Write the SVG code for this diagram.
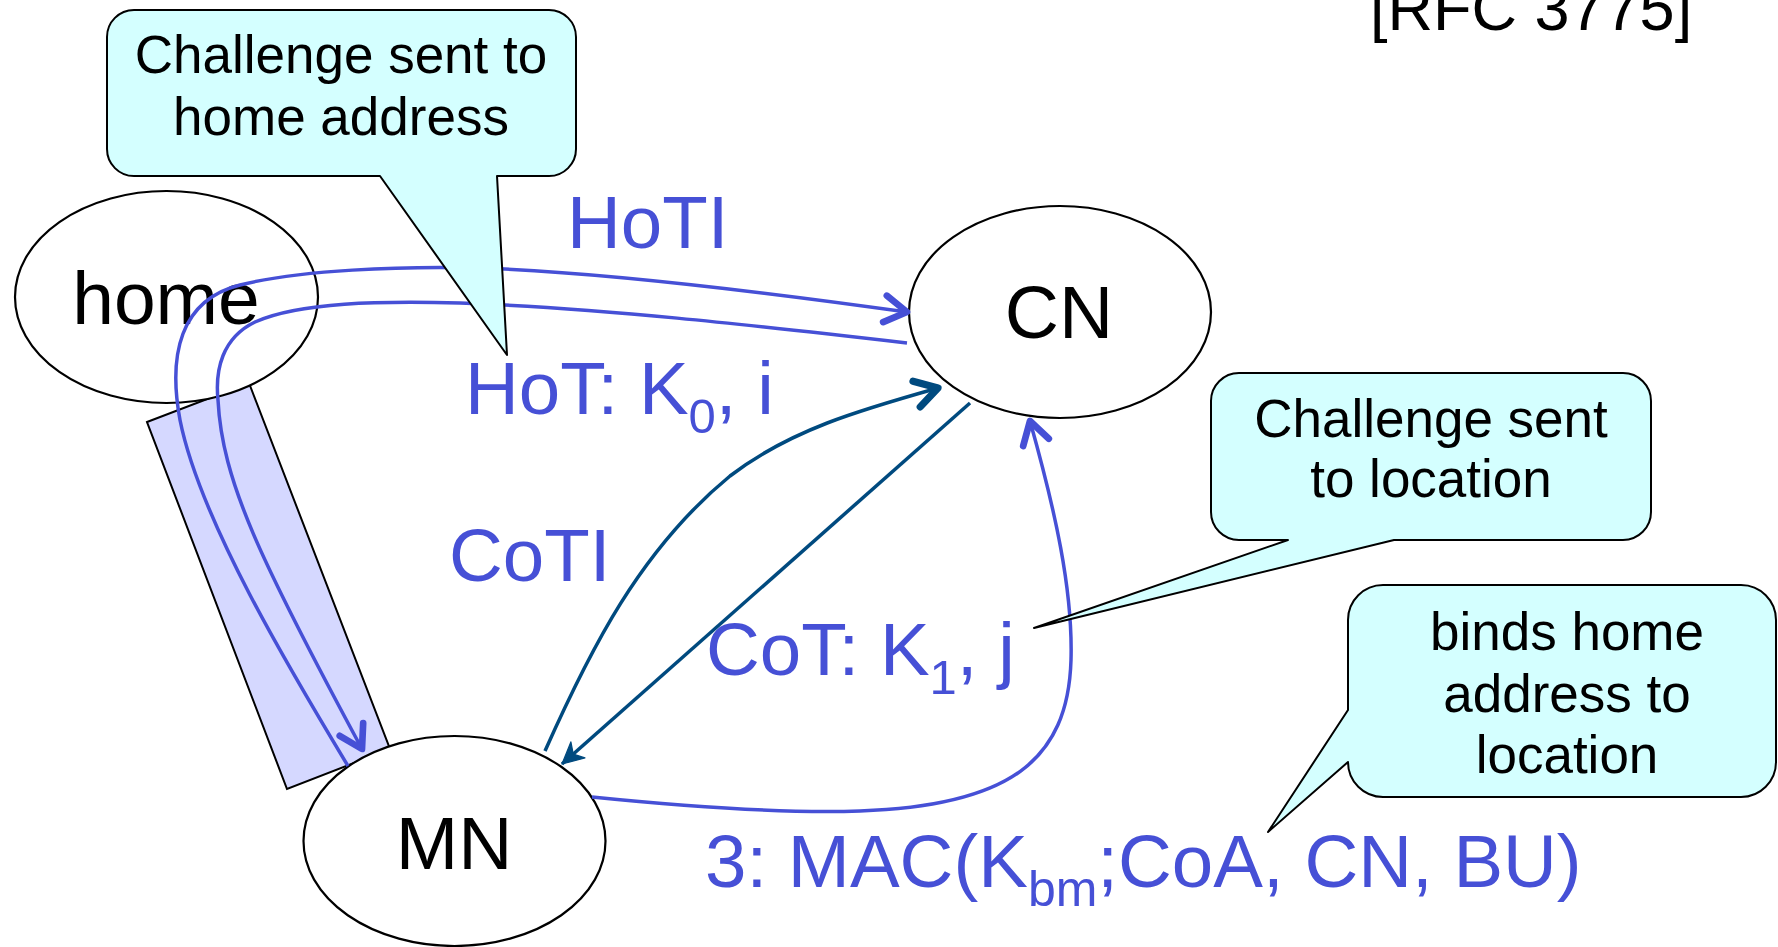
<svg xmlns="http://www.w3.org/2000/svg" width="1778" height="947" viewBox="0 0 1778 947">
  <style>
    .node { fill: #ffffff; stroke: #000000; stroke-width: 2.2; }
    .node-label { font-family: "Liberation Sans", Arial, sans-serif; font-size: 75px; fill: #000000; text-anchor: middle; }
    .callout { fill: #D4FFFF; stroke: #000000; stroke-width: 2; stroke-linejoin: round; }
    .callout-text { font-family: "Liberation Sans", Arial, sans-serif; font-size: 53px; fill: #000000; text-anchor: middle; }
    .msg { fill: none; stroke: #4650D6; stroke-width: 3.5; }
    .msg-dark { fill: none; stroke: #004A7F; stroke-width: 3.5; }
    .label { font-family: "Liberation Sans", Arial, sans-serif; font-size: 74.5px; fill: #4650D6; }
    .ref { font-family: "Liberation Sans", Arial, sans-serif; font-size: 63px; fill: #000000; }
  </style>
  <defs>
    <marker id="open-blue" markerUnits="userSpaceOnUse" markerWidth="40" markerHeight="40" viewBox="-26 -18 32 36" refX="0" refY="0" orient="auto">
      <path d="M -20 -12 L 0 0 L -20 12" fill="none" stroke="#4650D6" stroke-width="6" stroke-linecap="round" stroke-linejoin="round"/>
    </marker>
    <marker id="open-dark" markerUnits="userSpaceOnUse" markerWidth="40" markerHeight="40" viewBox="-26 -18 32 36" refX="0" refY="0" orient="auto">
      <path d="M -20 -12 L 0 0 L -20 12" fill="none" stroke="#004A7F" stroke-width="6.5" stroke-linecap="round" stroke-linejoin="round"/>
    </marker>
    <marker id="stealth-dark" markerUnits="userSpaceOnUse" markerWidth="30" markerHeight="30" viewBox="-20 -12 24 24" refX="0" refY="0" orient="auto">
      <path d="M 0 0 L -17 -8.5 L -12 0 L -17 8.5 Z" fill="#004A7F" stroke="#004A7F" stroke-width="1" stroke-linejoin="round"/>
    </marker>
  </defs>

  <!-- reference tag -->
  <text class="ref" x="1370" y="30">[RFC 3775]</text>

  <!-- tunnel between home and MN -->
  <g id="tunnel">
    <polygon points="147,422 249,383 390,749 287,789" fill="#D5D8FF" stroke="#000000" stroke-width="2"/>
  </g>

  <!-- nodes -->
  <g id="node-home">
    <ellipse class="node" cx="166.5" cy="297" rx="151.5" ry="106"/>
    <text class="node-label" x="166" y="324">home</text>
  </g>
  <g id="node-cn">
    <ellipse class="node" cx="1060" cy="312" rx="151" ry="106"/>
    <text class="node-label" x="1059" y="338">CN</text>
  </g>
  <g id="node-mn">
    <ellipse class="node" cx="454.5" cy="841" rx="151" ry="105"/>
    <text class="node-label" x="454" y="869">MN</text>
  </g>

  <!-- message connectors -->
  <g id="connectors">
    <!-- HoTI: MN via home to CN -->
    <path id="hoti" class="msg" d="M 348 766 C 290 670, 200 520, 180 420 C 168 355, 180 300, 240 285 C 300 270, 400 266, 480 268 C 600 272, 750 290, 907 312" marker-end="url(#open-blue)"/>
    <!-- HoT: CN via home to MN -->
    <path id="hot" class="msg" d="M 907 343 C 750 325, 600 308, 460 303 C 380 301, 300 302, 255 322 C 222 338, 215 370, 218 400 C 222 480, 260 560, 362 749" marker-end="url(#open-blue)"/>
    <!-- CoTI: MN to CN -->
    <path id="coti" class="msg-dark" d="M 545 751 C 590 650, 640 550, 730 476 C 790 430, 860 410, 938 388" marker-end="url(#open-dark)"/>
    <!-- CoT: CN to MN -->
    <path id="cot" class="msg-dark" d="M 970 403 L 562 764" marker-end="url(#stealth-dark)"/>
    <!-- binding update: MN to CN -->
    <path id="bu" class="msg" d="M 592 797 C 720 810, 800 813, 860 811 C 1010 806, 1068 760, 1071 660 C 1073 590, 1055 510, 1030 421" marker-end="url(#open-blue)"/>
  </g>

  <!-- message labels -->
  <g id="labels">
    <text class="label" x="567" y="248">HoTI</text>
    <text class="label" x="465" y="414">HoT: K<tspan font-size="49" dy="19">0</tspan><tspan dy="-19">, i</tspan></text>
    <text class="label" x="449" y="581">CoTI</text>
    <text class="label" x="706" y="675">CoT: K<tspan font-size="49" dy="19">1</tspan><tspan dy="-19">, j</tspan></text>
    <text class="label" x="705" y="887" font-size="76.5">3: MAC(K<tspan font-size="50" dy="19">bm</tspan><tspan dy="-19">;CoA, CN, BU)</tspan></text>
  </g>

  <!-- callouts -->
  <g id="callout-home">
    <path class="callout" d="M 134 10 H 549 A 27 27 0 0 1 576 37 V 149 A 27 27 0 0 1 549 176 H 497 L 507 355 L 380 176 H 134 A 27 27 0 0 1 107 149 V 37 A 27 27 0 0 1 134 10 Z"/>
    <text class="callout-text" x="341" y="73">Challenge sent to</text>
    <text class="callout-text" x="341" y="135">home address</text>
  </g>
  <g id="callout-location">
    <path class="callout" d="M 1239 373 H 1623 A 28 28 0 0 1 1651 401 V 512 A 28 28 0 0 1 1623 540 H 1394 L 1034 628 L 1288 540 H 1239 A 28 28 0 0 1 1211 512 V 401 A 28 28 0 0 1 1239 373 Z"/>
    <text class="callout-text" x="1431" y="437">Challenge sent</text>
    <text class="callout-text" x="1431" y="497">to location</text>
  </g>
  <g id="callout-binding">
    <path class="callout" d="M 1383 585 H 1741 A 35 35 0 0 1 1776 620 V 762 A 35 35 0 0 1 1741 797 H 1383 A 35 35 0 0 1 1348 762 L 1268 832 L 1348 710 V 620 A 35 35 0 0 1 1383 585 Z"/>
    <text class="callout-text" x="1567" y="650">binds home</text>
    <text class="callout-text" x="1567" y="712">address to</text>
    <text class="callout-text" x="1567" y="773">location</text>
  </g>
</svg>
